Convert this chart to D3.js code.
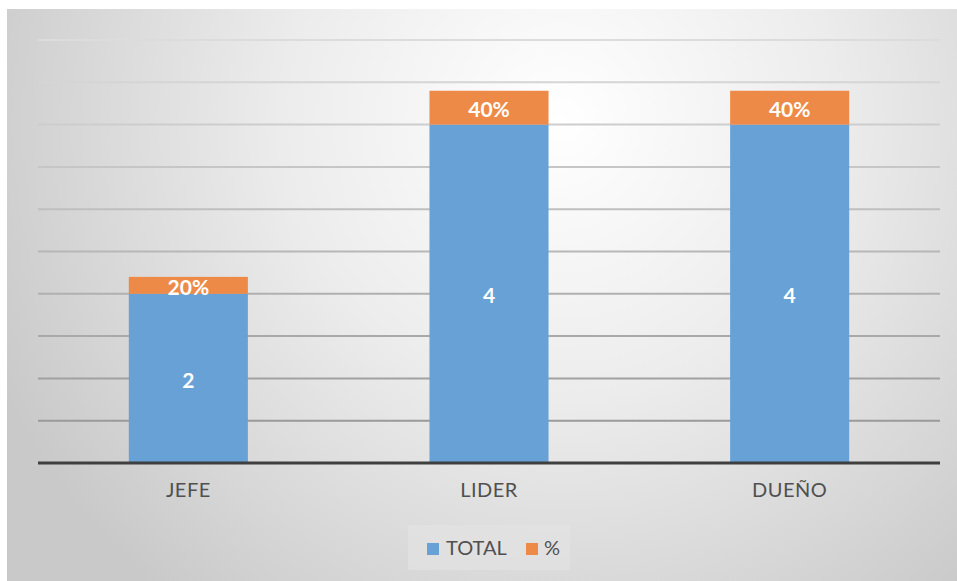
<!DOCTYPE html>
<html>
<head>
<meta charset="utf-8">
<script src="https://cdn.jsdelivr.net/npm/d3@7"></script>
<style>
  html, body { margin: 0; padding: 0; background: #ffffff; }
  svg { display: block; }
</style>
</head>
<body>
<svg id="chart" width="957" height="581"></svg>
<script>
// Chart data
const categories = ["JEFE", "LIDER", "DUEÑO"];
const totalValues = [2, 4, 4];
const percentValues = [0.2, 0.4, 0.4];
const percentLabels = ["20%", "40%", "40%"];
const seriesNames = ["TOTAL", "%"];
const yTicks = [0, 0.5, 1, 1.5, 2, 2.5, 3, 3.5, 4, 4.5, 5];

const W = 957, H = 581;
const colors = { total: "#67a1d6", pct: "#ee8a48" };
const fontFamily = "Lato, 'Open Sans', sans-serif";

const svg = d3.select("#chart");
const defs = svg.append("defs");

// Soft radial backdrop: bright near the top centre, grey toward the edges
const bg = defs.append("radialGradient")
  .attr("id", "bgGrad")
  .attr("gradientUnits", "userSpaceOnUse")
  .attr("cx", 560).attr("cy", 120).attr("r", 620);
bg.append("stop").attr("offset", "0%").attr("stop-color", "#ffffff");
bg.append("stop").attr("offset", "45%").attr("stop-color", "#ececec");
bg.append("stop").attr("offset", "100%").attr("stop-color", "#c9c9c9");

svg.append("rect")
  .attr("x", 7).attr("y", 9)
  .attr("width", W - 7).attr("height", H - 9)
  .attr("fill", "url(#bgGrad)");

// Scales
const x = d3.scaleBand()
  .domain(categories)
  .range([38, 940])
  .paddingInner(0.604)
  .paddingOuter(0.302);

const y = d3.scaleLinear()
  .domain([0, 5])
  .range([463, 40]);

// Horizontal gridlines, fading toward the top
const gridColor = d3.scaleLinear().domain([5, 0.5]).range(["#dcdcdc", "#9a9a9a"]);
svg.append("g")
  .selectAll("line")
  .data(yTicks.filter(t => t > 0))
  .join("line")
  .attr("x1", 38).attr("x2", 940)
  .attr("y1", d => y(d)).attr("y2", d => y(d))
  .attr("stroke", d => gridColor(d))
  .attr("stroke-width", 2);

// Stacked bars
const rows = categories.map((c, i) => ({ cat: c, total: totalValues[i], pct: percentValues[i], label: percentLabels[i] }));
const stack = d3.stack().keys(["total", "pct"]);
const layers = stack(rows);
const layerColors = [colors.total, colors.pct];

svg.append("g")
  .selectAll("g")
  .data(layers)
  .join("g")
  .attr("fill", (d, i) => layerColors[i])
  .selectAll("rect")
  .data(d => d)
  .join("rect")
  .attr("x", d => x(d.data.cat))
  .attr("width", x.bandwidth())
  .attr("y", d => y(d[1]))
  .attr("height", d => y(d[0]) - y(d[1]));

// Value labels
const labels = svg.append("g")
  .attr("font-family", fontFamily)
  .attr("font-weight", "bold")
  .attr("font-size", 21)
  .attr("fill", "#ffffff")
  .attr("text-anchor", "middle")
  .attr("dominant-baseline", "central");

labels.selectAll("text.total")
  .data(layers[0])
  .join("text")
  .attr("class", "total")
  .attr("x", d => x(d.data.cat) + x.bandwidth() / 2)
  .attr("y", d => (y(d[0]) + y(d[1])) / 2 + 1)
  .text(d => d.data.total);

labels.selectAll("text.pct")
  .data(layers[1])
  .join("text")
  .attr("class", "pct")
  .attr("x", d => x(d.data.cat) + x.bandwidth() / 2)
  .attr("y", d => (y(d[0]) + y(d[1])) / 2 + 1)
  .text(d => d.data.label);

// Baseline and category axis
const xAxis = svg.append("g")
  .attr("transform", `translate(0,${y(0)})`)
  .call(d3.axisBottom(x).tickSize(0).tickPadding(20));
xAxis.select(".domain")
  .attr("d", "M38,0H940")
  .attr("stroke", "#3f3f3f")
  .attr("stroke-width", 3);
xAxis.selectAll("text")
  .attr("font-family", fontFamily)
  .attr("font-size", 20)
  .attr("fill", "#505050")
  .attr("letter-spacing", 0.5);

// Legend
const legend = svg.append("g");
legend.append("rect")
  .attr("x", 408).attr("y", 525)
  .attr("width", 162).attr("height", 45)
  .attr("fill", "#e2e2e2").attr("opacity", 0.7);

const legendItems = [
  { name: seriesNames[0], color: colors.total, sx: 427, tx: 446 },
  { name: seriesNames[1], color: colors.pct, sx: 526, tx: 544 }
];
legendItems.forEach(it => {
  legend.append("rect")
    .attr("x", it.sx).attr("y", 543)
    .attr("width", 12).attr("height", 12)
    .attr("fill", it.color);
  legend.append("text")
    .attr("x", it.tx).attr("y", 547)
    .attr("dominant-baseline", "central")
    .attr("font-family", fontFamily)
    .attr("font-size", 20)
    .attr("fill", "#505050")
    .text(it.name);
});
</script>
</body>
</html>
